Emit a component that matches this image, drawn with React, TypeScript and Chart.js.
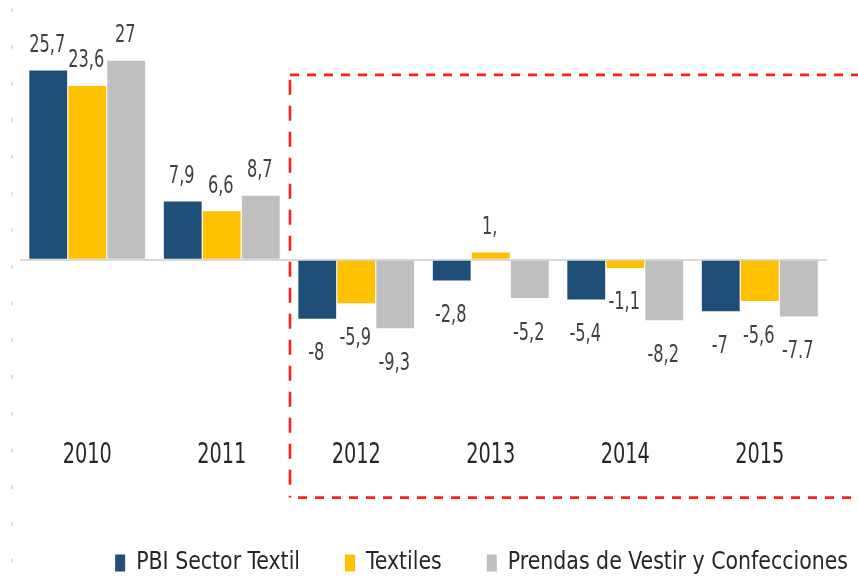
import React, { useEffect, useRef } from "react";
import { Chart, registerables } from "chart.js";

Chart.register(...registerables);

const categories = ["2010", "2011", "2012", "2013", "2014", "2015"];
const seriesNames = ["PBI Sector Textil", "Textiles", "Prendas de Vestir y Confecciones"];
const pbiValues = [25.7, 7.9, -8, -2.8, -5.4, -7];
const textilesValues = [23.6, 6.6, -5.9, 1.0, -1.1, -5.6];
const prendasValues = [27, 8.7, -9.3, -5.2, -8.2, -7.7];
const pbiLabels = ["25,7", "7,9", "-8", "-2,8", "-5,4", "-7"];
const textilesLabels = ["23,6", "6,6", "-5,9", "1,", "-1,1", "-5,6"];
const prendasLabels = ["27", "8,7", "-9,3", "-5,2", "-8,2", "-7.7"];
const seriesColors = ["#1F4E79", "#FFC000", "#BFBFBF"];
const yMin = -24;
const yMax = 32;
const highlightFromIndex = 1.5;
const highlightTopValue = 25.1;

const FONT = "'DejaVu Sans Condensed', 'DejaVu Sans', sans-serif";

const allLabels = [pbiLabels, textilesLabels, prendasLabels];

function drawNarrow(ctx: any, text: string, x: number, y: number, sx: number, align: string) {
  ctx.save();
  ctx.translate(x, y);
  ctx.scale(sx, 1);
  ctx.textAlign = align;
  ctx.fillText(text, 0, 0);
  ctx.restore();
}

const leftDecor = {
  id: "leftDecor",
  beforeDraw(chart: any) {
    const ctx = chart.ctx;
    ctx.save();
    ctx.strokeStyle = "#D6D6D6";
    ctx.lineWidth = 1.5;
    ctx.setLineDash([4, 32.7]);
    ctx.beginPath();
    ctx.moveTo(12, 8);
    ctx.lineTo(12, 575);
    ctx.stroke();
    ctx.restore();
  },
};

const dataLabels = {
  id: "dataLabels",
  afterDatasetsDraw(chart: any) {
    const ctx = chart.ctx;
    ctx.save();
    ctx.font = `25px ${FONT}`;
    ctx.fillStyle = "#404040";
    ctx.textBaseline = "middle";
    chart.data.datasets.forEach((ds: any, di: number) => {
      const meta = chart.getDatasetMeta(di);
      meta.data.forEach((bar: any, i: number) => {
        const v = ds.data[i];
        const txt = allLabels[di][i];
        const y = v >= 0 ? bar.y - 25 : bar.y + 35;
        drawNarrow(ctx, txt, bar.x - 1, y, 0.72, "center");
      });
    });
    ctx.restore();
  },
};

const categoryLabels = {
  id: "categoryLabels",
  afterDraw(chart: any) {
    const ctx = chart.ctx;
    const xs = chart.scales.x;
    ctx.save();
    ctx.font = `29px ${FONT}`;
    ctx.fillStyle = "#262626";
    ctx.textBaseline = "middle";
    chart.data.labels.forEach((lab: string, i: number) => {
      drawNarrow(ctx, lab, xs.getPixelForValue(i), chart.chartArea.bottom + 19, 0.74, "center");
    });
    ctx.restore();
  },
};

const highlight = {
  id: "highlight",
  afterDraw(chart: any) {
    const ctx = chart.ctx;
    const x = chart.scales.x.getPixelForValue(highlightFromIndex) + 1;
    const top = chart.scales.y.getPixelForValue(highlightTopValue);
    const bottom = chart.chartArea.bottom + 61;
    const right = chart.width + 10;
    ctx.save();
    ctx.strokeStyle = "#FF1E1E";
    ctx.lineWidth = 2.6;
    ctx.setLineDash([9, 8]);
    ctx.beginPath();
    ctx.moveTo(x, top);
    ctx.lineTo(right, top);
    ctx.moveTo(x + 8, bottom);
    ctx.lineTo(right, bottom);
    ctx.stroke();
    ctx.setLineDash([15, 11]);
    ctx.beginPath();
    ctx.moveTo(x, top + 5);
    ctx.lineTo(x, bottom);
    ctx.stroke();
    ctx.restore();
  },
};

const customLegend = {
  id: "customLegend",
  afterDraw(chart: any) {
    const ctx = chart.ctx;
    ctx.save();
    ctx.font = `24px ${FONT}`;
    ctx.textBaseline = "middle";
    const sx = 0.95;
    const boxW = 10;
    const boxH = 17;
    const gapText = 11;
    const gapItem = 45;
    const items = chart.data.datasets.map((ds: any) => ({
      label: ds.label,
      color: ds.backgroundColor,
      w: ctx.measureText(ds.label).width * sx,
    }));
    const total = items.reduce((s: number, it: any) => s + boxW + gapText + it.w, 0) + gapItem * (items.length - 1);
    const cy = chart.height - 18;
    let x = chart.width - 10 - total;
    items.forEach((it: any) => {
      ctx.fillStyle = it.color;
      ctx.fillRect(x, cy - boxH / 2, boxW, boxH);
      x += boxW + gapText;
      ctx.fillStyle = "#262626";
      drawNarrow(ctx, it.label, x, cy, sx, "left");
      x += it.w + gapItem;
    });
    ctx.restore();
  },
};

export default function App() {
  const canvasRef = useRef<HTMLCanvasElement | null>(null);

  useEffect(() => {
    document.body.style.margin = "0";
    const canvas = canvasRef.current;
    if (!canvas) return;
    const seriesValues = [pbiValues, textilesValues, prendasValues];
    const chart = new Chart(canvas, {
      type: "bar",
      data: {
        labels: categories,
        datasets: seriesNames.map((name, i) => ({
          label: name,
          data: seriesValues[i],
          backgroundColor: seriesColors[i],
          borderWidth: 0,
          categoryPercentage: 0.87,
          barPercentage: 0.97,
        })),
      },
      options: {
        animation: false,
        responsive: false,
        events: [],
        layout: { padding: { left: 20, right: 31, top: 24, bottom: 108 } },
        plugins: {
          legend: { display: false },
          tooltip: { enabled: false },
        },
        scales: {
          x: {
            grid: { display: false, drawTicks: false },
            border: { display: false },
            ticks: {
              padding: 2,
              color: "rgba(0,0,0,0)",
              font: { family: FONT, size: 27 },
            },
          },
          y: {
            display: true,
            min: yMin,
            max: yMax,
            border: { display: false },
            grid: {
              drawTicks: false,
              color: (c: any) => (c.tick && c.tick.value === 0 ? "#D9D9D9" : "rgba(0,0,0,0)"),
              lineWidth: 2,
            },
            ticks: { display: false, stepSize: 1 },
            afterFit: (s: any) => {
              s.width = 0;
            },
          },
        },
      },
      plugins: [leftDecor, dataLabels, categoryLabels, highlight, customLegend],
    });
    return () => chart.destroy();
  }, []);

  return (
    <div style={{ width: 858, height: 581 }}>
      <canvas ref={canvasRef} width={858} height={581} />
    </div>
  );
}
